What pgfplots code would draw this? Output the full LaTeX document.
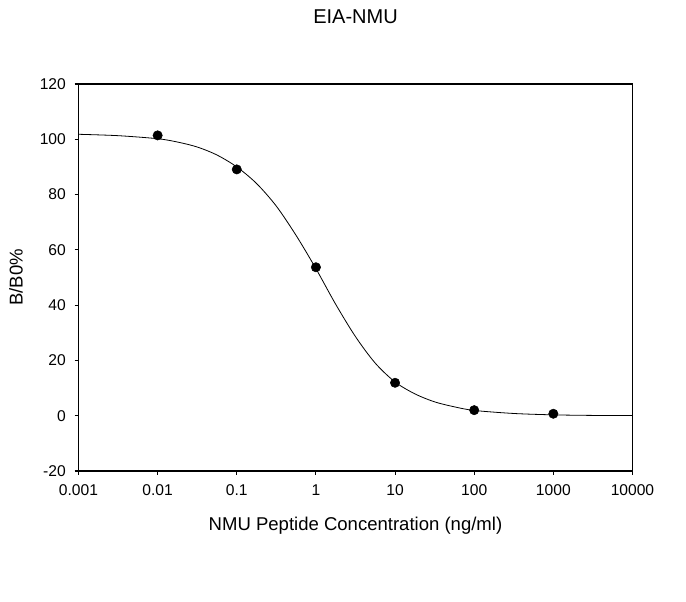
\documentclass[border=0pt]{standalone}
\usepackage{fontspec}
\setmainfont{Liberation Sans}
\usepackage{pgfplots}
\pgfplotsset{compat=1.18}

\begin{document}
\begin{tikzpicture}
\begin{axis}[
    scale only axis,
    width=415.5pt, height=290.25pt,
    xmode=log,
    xmin=0.001, xmax=10000,
    ymin=-20, ymax=120,
    xtick={0.001,0.01,0.1,1,10,100,1000,10000},
    xticklabels={0.001,0.01,0.1,1,10,100,1000,10000},
    xminorticks=false,
    ytick={-20,0,20,40,60,80,100,120},
    tick pos=left,
    tick align=outside,
    major tick length=3pt,
    axis line style={line width=1pt},
    every tick/.style={line width=0.8pt, black},
    /pgf/number format/assume math mode=true,
    tick label style={font=\fontsize{11.7}{14}\selectfont},
    xticklabel style={yshift=-4pt},
    yticklabel style={xshift=-3pt},
    title={EIA-NMU},
    every axis title/.style={at={(rel axis cs:0.5,1.155)}, anchor=base,
        font=\fontsize{15}{18}\selectfont},
    xlabel={NMU Peptide Concentration (ng/ml)},
    every axis x label/.style={at={(rel axis cs:0.5,-0.155)}, anchor=base,
        font=\fontsize{13.9}{17}\selectfont},
    ylabel={B/B0\%},
    every axis y label/.style={at={(rel axis cs:-0.1007,0.5)}, anchor=base, rotate=90,
        font=\fontsize{13.9}{17}\selectfont},
    clip=false,
]
% fitted curve
\addplot[black, line width=0.6pt, smooth, no marks] coordinates {
    (0.001,101.8) (0.003162,101.3) (0.01,100.2) (0.01778,99.0)
    (0.03162,97.2) (0.05623,94.3) (0.1,90.0) (0.1778,84.0)
    (0.3162,75.8) (0.5623,65.2) (1,53.2) (1.778,40.3)
    (3.162,28.6) (5.623,19.0) (10,12.2) (17.78,7.9)
    (31.62,5.0) (56.23,3.2) (100,1.9) (316.2,0.8)
    (1000,0.3) (3162,0.1) (10000,0.05)
};
% measured points
\addplot[only marks, mark=*, mark size=3.5pt, black] coordinates {
    (0.01,101.4) (0.1,89.1) (1,53.7) (10,11.9) (100,2.0) (1000,0.7)
};
\coordinate (bl) at (rel axis cs:-0.1417,-0.3385);
\coordinate (tr) at (rel axis cs:1.0966,1.217);
\end{axis}
\pgfresetboundingbox
\path[use as bounding box] (bl) rectangle (tr);
\end{tikzpicture}
\end{document}
